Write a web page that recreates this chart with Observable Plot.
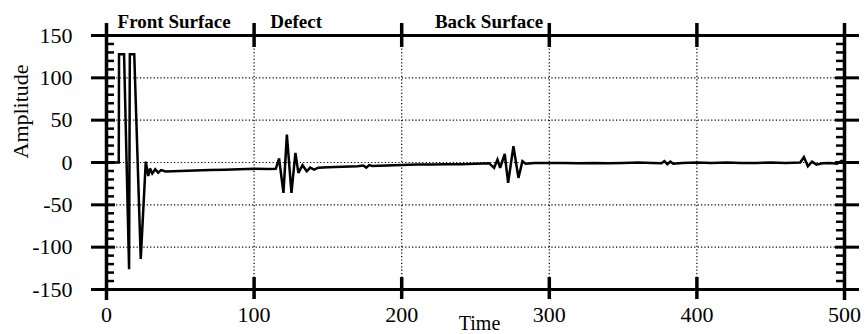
<!DOCTYPE html>
<html><head><meta charset="utf-8">
<script src="https://cdn.jsdelivr.net/npm/d3@7"></script>
<script src="https://cdn.jsdelivr.net/npm/@observablehq/plot@0.6"></script>
<style>html,body{margin:0;padding:0;background:#fff}</style>
</head><body><div id="chart"></div>
<script>
const time = [0, 8.3, 8.5, 11.9, 15.3, 15.8, 18.8, 23.2, 26.6, 28.3, 29.5, 31, 33, 35, 37, 40, 50, 60, 70, 80, 90, 100, 110, 114.7,
  116.9, 119.9, 122.2, 125.3, 128, 130, 132.8, 135.7, 138, 140.7, 143.4, 150, 160, 170, 174, 176, 178, 180, 190, 200, 210, 220, 230, 240, 250,
  259.2, 262.6, 264.9, 266.7, 269.8, 272.1, 275.7, 279.1, 281.8, 284, 290, 300, 310, 320, 330, 340, 350, 360, 370, 376, 378, 380, 382, 384,
  390, 400, 410, 420, 430, 440, 450, 460, 470, 472.5, 475.2, 478, 481, 485, 490, 495, 498, 500];
const amplitude = [0, 0, 128, 128, -126, 128, 128, -114, 1, -16, -7, -13, -8, -12, -9, -10.5, -10, -9.5, -9, -8.5, -8, -7.5, -7.8, -7.5,
  4.7, -35.8, 33, -35.8, 11.3, -12.3, -3.2, -10.4, -6, -8.5, -6.2, -5.5, -5, -4.5, -3.5, -6, -3, -4, -3.5, -3, -2.5, -2.5, -2, -2, -1.5,
  -0.8, -6.3, 3.5, -6.3, 10.2, -24, 19.2, -18.2, 1.5, -1.5, -0.7, -0.5, -0.5, -1, -0.5, -1, -0.5, 0, -0.5, -1, 1.5, -2, 1, -1.5,
  -0.5, 0, -0.5, 0, -0.5, -0.5, 0, -0.5, 0, 6.3, -4.4, 1, -2.5, -1, -0.5, -1.5, 2, 1];
const xTicks = [0, 100, 200, 300, 400, 500];
const yTicks = [-150, -100, -50, 0, 50, 100, 150];
const gridX = [100, 200, 300, 400];
const gridY = [-100, -50, 0, 50, 100];
const majorY = [-100, -50, 0, 50, 100];
const minorY = [-140, -130, -120, -110, -90, -80, -70, -60, -40, -30, -20, -10, 10, 20, 30, 40, 60, 70, 80, 90, 110, 120, 130, 140];
const sectionLabels = ["Front Surface", "Defect", "Back Surface"];
const sectionTimes = [7.5, 111, 222.5];

const signal = time.map((t, i) => ({t, a: amplitude[i]}));
const sections = sectionLabels.map((label, i) => ({label, t: sectionTimes[i]}));

const chart = Plot.plot({
  width: 866, height: 334,
  marginLeft: 106, marginRight: 22, marginTop: 35, marginBottom: 45,
  x: {domain: [0, 500], axis: null},
  y: {domain: [-150, 150], axis: null},
  style: {fontFamily: "'Liberation Serif', 'Times New Roman', serif", background: "#fff", color: "#000", overflow: "visible"},
  marks: [
    Plot.ruleY(gridY, {stroke: "#000", strokeWidth: 1.2, strokeDasharray: "1.2,2.2"}),
    Plot.ruleX(gridX, {stroke: "#000", strokeWidth: 1.2, strokeDasharray: "1.2,2.2"}),
    // frame
    Plot.ruleY([-150, 150], {stroke: "#000", strokeWidth: 3, insetLeft: -15, insetRight: -15}),
    Plot.ruleX([0, 500], {stroke: "#000", strokeWidth: 3.5, insetTop: -12, insetBottom: -11}),
    // x major ticks (top and bottom)
    Plot.ruleX(gridX, {y1: 150, y2: 150, stroke: "#000", strokeWidth: 3.5, insetTop: -12, insetBottom: -12}),
    Plot.ruleX(gridX, {y1: -150, y2: -150, stroke: "#000", strokeWidth: 3.5, insetTop: -12, insetBottom: -10}),
    // y major ticks
    Plot.ruleY(majorY, {x1: 0, x2: 0, stroke: "#000", strokeWidth: 3, insetLeft: -15, insetRight: -9}),
    Plot.ruleY(majorY, {x1: 500, x2: 500, stroke: "#000", strokeWidth: 3, insetLeft: -9, insetRight: -15}),
    // y minor ticks
    Plot.ruleY(minorY, {x1: 0, x2: 0, stroke: "#000", strokeWidth: 2.5, insetRight: -8}),
    Plot.ruleY(minorY, {x1: 500, x2: 500, stroke: "#000", strokeWidth: 2.5, insetLeft: -8}),
    // signal
    Plot.line(signal, {x: "t", y: "a", stroke: "#000", strokeWidth: 2.5, strokeLinejoin: "miter", strokeMiterlimit: 3}),
    // tick labels
    Plot.text(yTicks, {y: d => d, frameAnchor: "left", dx: -34, textAnchor: "end", fontSize: 22, text: d => String(d)}),
    Plot.text(xTicks, {x: d => d, frameAnchor: "bottom", dy: 16.5, lineAnchor: "top", fontSize: 22, text: d => String(d)}),
    // axis titles
    Plot.text(["Time"], {frameAnchor: "bottom", dy: 26.5, dx: 4, lineAnchor: "top", fontSize: 20, text: d => d}),
    Plot.text(["Amplitude"], {frameAnchor: "left", dx: -86, dy: -4, rotate: -90, fontSize: 22, text: d => d}),
    // section labels
    Plot.text(sections, {x: "t", frameAnchor: "top", lineAnchor: "top", dy: -21.5, textAnchor: "start", fontSize: 19, fontWeight: "bold", text: "label"})
  ]
});
document.getElementById("chart").appendChild(chart);
</script>
</body></html>
